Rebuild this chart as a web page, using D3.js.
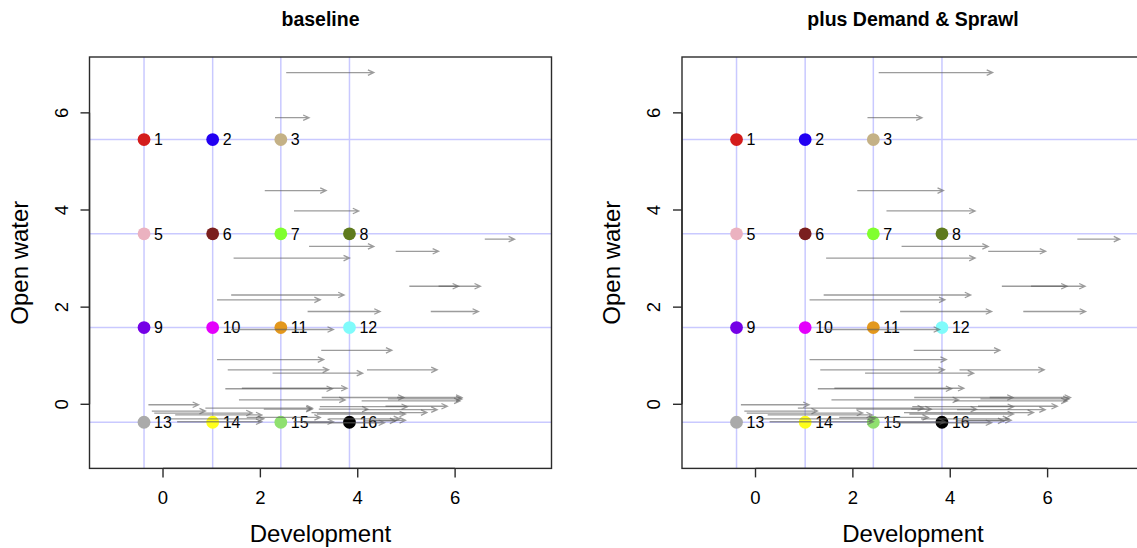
<!DOCTYPE html>
<html>
<head>
<meta charset="utf-8">
<script src="https://d3js.org/d3.v7.min.js"></script>
<style>
  html, body { margin: 0; padding: 0; background: #fff; }
  svg { display: block; font-family: "Liberation Sans", Arial, Helvetica, sans-serif; }
</style>
</head>
<body>
<div id="chart"></div>
<script>
// Panel titles
const panelTitles = ["baseline", "plus Demand & Sprawl"];

// Axis ticks
const xTicks = [0, 2, 4, 6];
const yTicks = [0, 2, 4, 6];
const xDomain = [-1.51, 7.98];
const yDomain = [-1.32, 7.15];

// Reference grid lines (light blue)
const gridX = [-0.39, 1.02, 2.42, 3.83];
const gridY = [5.45, 3.51, 1.58, -0.37];

// Labelled points (class 4 absent)
const pointIds = [1, 2, 3, 5, 6, 7, 8, 9, 10, 11, 12, 13, 14, 15, 16];
const pointX = [-0.39, 1.02, 2.42, -0.39, 1.02, 2.42, 3.83, -0.39, 1.02, 2.42, 3.83, -0.39, 1.02, 2.42, 3.83];
const pointY = [5.45, 5.45, 5.45, 3.51, 3.51, 3.51, 3.51, 1.58, 1.58, 1.58, 1.58, -0.37, -0.37, -0.37, -0.37];
const pointColors = ["#d41c1c", "#2200f2", "#c4b186", "#ebb2c0", "#7a1f1f", "#80ff2e", "#5e7a1e",
  "#7400e6", "#e400fc", "#e3981e", "#80fbfb", "#aaaaaa", "#ffff1a", "#8fe070", "#000000"];

// Arrows: start (x0, y), end for baseline and for "plus Demand & Sprawl"
const arrowY = [6.83, 5.90, 4.40, 3.98, 3.40, 3.25, 3.15, 3.01, 2.43, 2.43,
  2.25, 2.15, 1.91, 1.91, 1.54, 1.11, 0.92, 0.71, 0.64, 0.71,
  0.32, 0.33, 0.09, 0.14, 0.14, 0.11, 0.07, -0.01, -0.04, -0.05,
  -0.08, -0.10, -0.10, -0.11, -0.14, -0.17, -0.18, -0.20, -0.22, -0.27,
  -0.30, -0.33, -0.36, -0.36, -0.34, -0.38, -0.30];
const arrowX0 = [2.53, 2.30, 2.09, 2.69, 6.61, 3.00, 4.78, 1.45, 5.06, 5.66,
  1.40, 1.11, 2.97, 5.50, 1.40, 3.25, 1.11, 1.33, 2.25, 4.19,
  1.28, 1.62, 1.56, 3.26, 4.81, 4.62, 4.08, -0.30, 4.57, 3.22,
  0.87, 2.07, 3.20, 4.14, -0.23, 3.05, -0.18, 3.16, 0.25, 1.72,
  0.08, 4.26, 0.29, 2.68, 4.12, 2.90, 3.40];
const arrowX1Base = [4.33, 3.00, 3.35, 4.02, 7.22, 4.33, 5.66, 3.83, 6.52, 6.07,
  3.72, 3.23, 4.46, 6.48, 3.50, 4.70, 3.30, 3.40, 4.10, 5.63,
  3.48, 3.78, 3.74, 4.95, 6.14, 6.14, 6.10, 0.73, 5.84, 5.02,
  3.07, 3.06, 4.21, 5.63, 0.87, 5.42, 1.83, 4.98, 2.03, 3.23,
  2.07, 4.98, 2.03, 3.50, 4.78, 4.55, 4.86];
const arrowX1Sprawl = [4.87, 3.42, 3.86, 4.51, 7.48, 4.78, 5.96, 4.51, 6.77, 6.40,
  4.42, 3.89, 4.85, 6.78, 3.78, 5.02, 3.92, 3.88, 4.48, 5.93,
  4.03, 4.28, 4.17, 5.29, 6.47, 6.44, 6.40, 1.10, 6.20, 5.30,
  3.45, 3.61, 4.54, 5.95, 1.27, 5.71, 2.20, 5.30, 2.40, 3.55,
  2.45, 5.25, 2.42, 3.90, 5.10, 4.85, 5.20];

const arrowEnds = [arrowX1Base, arrowX1Sprawl];

const width = 1137;
const height = 548;
const panelLeft = [89.5, 682];
const panelWidth = 462;
const plotTop = 57;
const plotBottom = 468.4;

const svg = d3.select("#chart").append("svg")
  .attr("width", width)
  .attr("height", height);

const y = d3.scaleLinear().domain(yDomain).range([plotBottom, plotTop]);

panelTitles.forEach((title, p) => {
  const left = panelLeft[p];
  const x = d3.scaleLinear().domain(xDomain).range([left, left + panelWidth]);
  const g = svg.append("g");
  const cx = left + panelWidth / 2;

  // clip to plot region
  const clipId = "clip" + p;
  svg.append("clipPath").attr("id", clipId)
    .append("rect").attr("x", left).attr("y", plotTop)
    .attr("width", panelWidth).attr("height", plotBottom - plotTop);
  const plot = g.append("g").attr("clip-path", `url(#${clipId})`);

  // grid lines
  plot.selectAll("line.gx").data(gridX).join("line")
    .attr("class", "gx")
    .attr("x1", d => x(d)).attr("x2", d => x(d))
    .attr("y1", plotTop).attr("y2", plotBottom)
    .attr("stroke", "#c9c9ff").attr("stroke-width", 1.5);
  plot.selectAll("line.gy").data(gridY).join("line")
    .attr("class", "gy")
    .attr("x1", left).attr("x2", left + panelWidth)
    .attr("y1", d => y(d)).attr("y2", d => y(d))
    .attr("stroke", "#c9c9ff").attr("stroke-width", 1.5);

  // points and labels
  plot.selectAll("circle").data(pointIds).join("circle")
    .attr("cx", (d, i) => x(pointX[i]))
    .attr("cy", (d, i) => y(pointY[i]))
    .attr("r", 6.4)
    .attr("fill", (d, i) => pointColors[i]);
  plot.selectAll("text.lab").data(pointIds).join("text")
    .attr("class", "lab")
    .attr("x", (d, i) => x(pointX[i]) + 10)
    .attr("y", (d, i) => y(pointY[i]))
    .attr("dy", "0.36em")
    .attr("font-size", 16)
    .attr("fill", "#000")
    .text(d => d);

  // arrows
  const ends = arrowEnds[p];
  const headLen = 6.5;
  const ang = 25 * Math.PI / 180;
  plot.selectAll("path.arrow").data(arrowY).join("path")
    .attr("class", "arrow")
    .attr("d", (d, i) => {
      const x0 = x(arrowX0[i]), x1 = x(ends[i]), yy = y(d);
      const hx = x1 - headLen * Math.cos(ang), hy = headLen * Math.sin(ang);
      return `M${x0},${yy}L${x1},${yy}M${hx},${yy - hy}L${x1},${yy}L${hx},${yy + hy}`;
    })
    .attr("fill", "none")
    .attr("stroke", "rgba(95,95,95,0.62)")
    .attr("stroke-width", 1.3);

  // box
  g.append("rect")
    .attr("x", left).attr("y", plotTop)
    .attr("width", panelWidth).attr("height", plotBottom - plotTop)
    .attr("fill", "none").attr("stroke", "#2b2b2b").attr("stroke-width", 1.4);

  // x axis
  const xAxis = g.append("g");
  xAxis.append("line")
    .attr("x1", x(xTicks[0])).attr("x2", x(xTicks[xTicks.length - 1]))
    .attr("y1", plotBottom).attr("y2", plotBottom)
    .attr("stroke", "#2b2b2b").attr("stroke-width", 1.4);
  xAxis.selectAll("line.t").data(xTicks).join("line")
    .attr("class", "t")
    .attr("x1", d => x(d)).attr("x2", d => x(d))
    .attr("y1", plotBottom).attr("y2", plotBottom + 9)
    .attr("stroke", "#2b2b2b").attr("stroke-width", 1.4);
  xAxis.selectAll("text").data(xTicks).join("text")
    .attr("x", d => x(d)).attr("y", plotBottom + 35.5)
    .attr("text-anchor", "middle")
    .attr("font-size", 18.5)
    .text(d => d);

  // y axis
  const yAxis = g.append("g");
  yAxis.append("line")
    .attr("x1", left).attr("x2", left)
    .attr("y1", y(yTicks[0])).attr("y2", y(yTicks[yTicks.length - 1]))
    .attr("stroke", "#2b2b2b").attr("stroke-width", 1.4);
  yAxis.selectAll("line.t").data(yTicks).join("line")
    .attr("class", "t")
    .attr("x1", left - 9).attr("x2", left)
    .attr("y1", d => y(d)).attr("y2", d => y(d))
    .attr("stroke", "#2b2b2b").attr("stroke-width", 1.4);
  yAxis.selectAll("text").data(yTicks).join("text")
    .attr("transform", d => `translate(${left - 22},${y(d)}) rotate(-90)`)
    .attr("text-anchor", "middle")
    .attr("font-size", 18.5)
    .text(d => d);

  // titles and axis labels
  g.append("text")
    .attr("x", cx).attr("y", 26)
    .attr("text-anchor", "middle")
    .attr("font-size", 19.5).attr("font-weight", "bold")
    .text(title);
  g.append("text")
    .attr("x", cx).attr("y", 542)
    .attr("text-anchor", "middle")
    .attr("font-size", 24)
    .text("Development");
  g.append("text")
    .attr("transform", `translate(${left - 62},${(plotTop + plotBottom) / 2}) rotate(-90)`)
    .attr("text-anchor", "middle")
    .attr("font-size", 24)
    .text("Open water");
});
</script>
</body>
</html>
